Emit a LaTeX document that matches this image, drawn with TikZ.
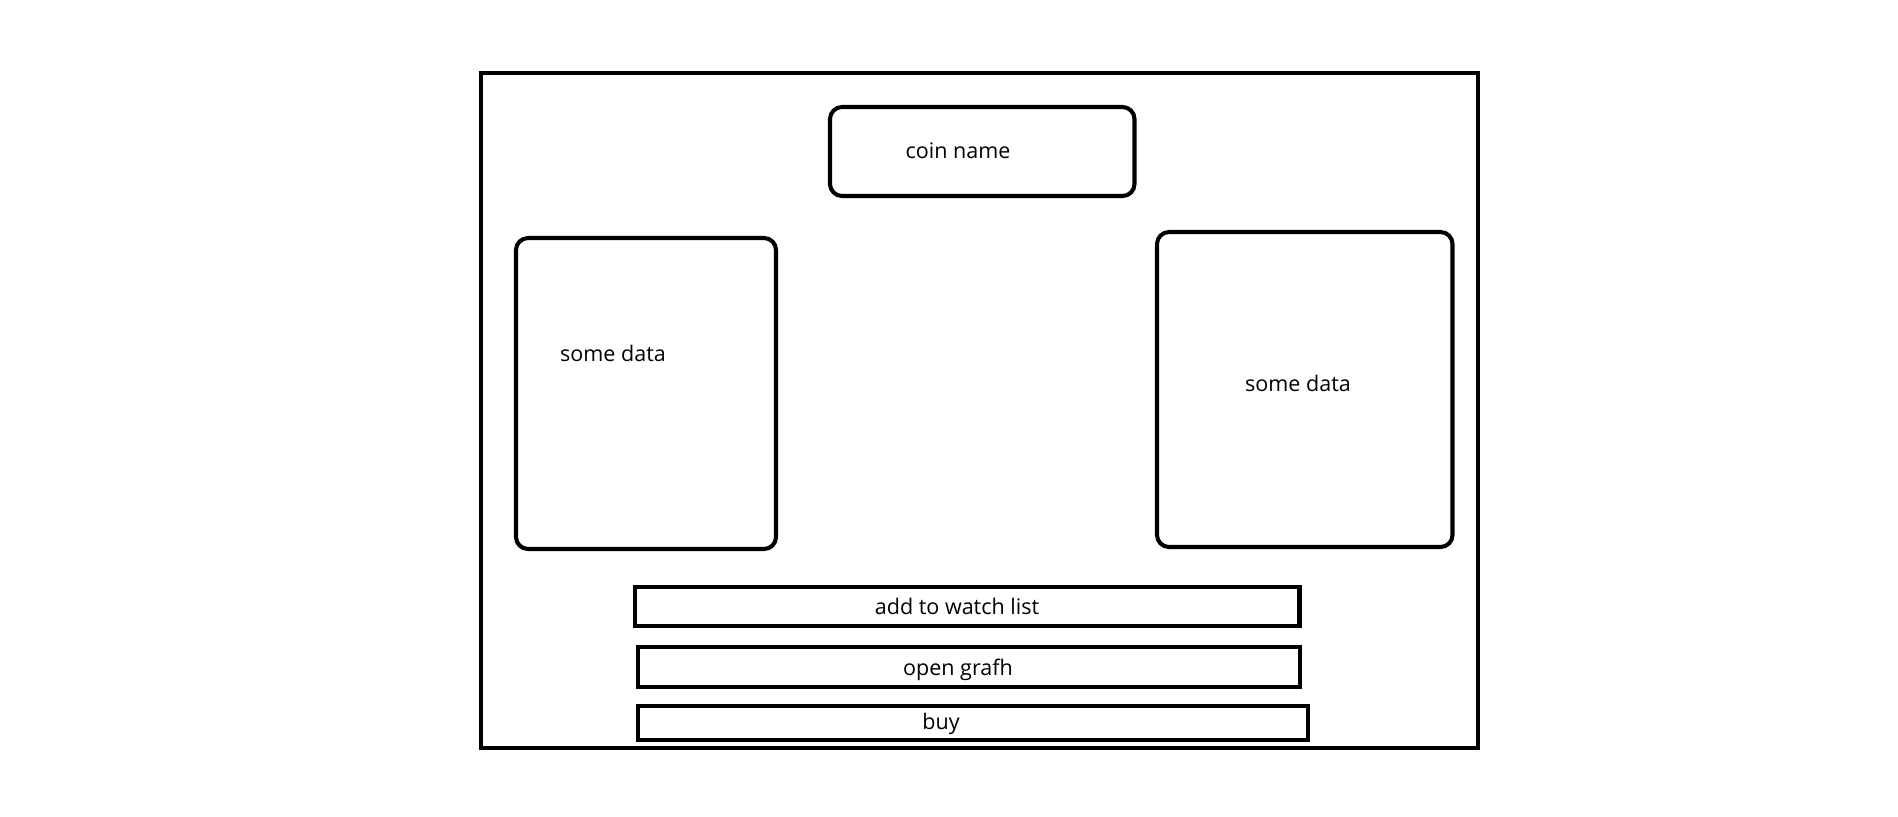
\documentclass[tikz,border=0pt]{standalone}
\usepackage{fontspec}
\setmainfont{Open Sans}
\usepackage{tikz}

\begin{document}
\begin{tikzpicture}[x=0.02cm,y=-0.02cm,
		frame/.style={line width=2.3pt},
		panel/.style={line width=2.3pt,rounded corners=0.24cm},
		button/.style={line width=2.3pt},
		caption/.style={anchor=base,inner sep=0pt,font=\fontsize{12.25}{14}\selectfont}
	]
						\useasboundingbox (0,0) rectangle (1898,816);
						% window
						\draw[frame] (481,73) rectangle (1478,748);
						% panels
						\draw[panel] (830,107) rectangle (1134.5,196);
						\draw[panel] (516,238) rectangle (776,549);
						\draw[panel] (1157,232) rectangle (1452.5,547);
						\node[caption] (coinname) at (958,158.3) {coin name};
						\node[caption] (datal) at (613,361) {some data};
						\node[caption] (datar) at (1298,391.7) {some data};
						% buttons
						\draw[button] (635,587) rectangle (1299.5,626);
						\draw[button] (638,647) rectangle (1300,687);
						\draw[button] (638,706) rectangle (1308,740);
						\node[caption] (watch) at (957,614) {add to watch list};
						\node[caption] (grafh) at (958,675) {open grafh};
						\node[caption] (buy) at (941,729) {buy};
					\end{tikzpicture}
\end{document}
